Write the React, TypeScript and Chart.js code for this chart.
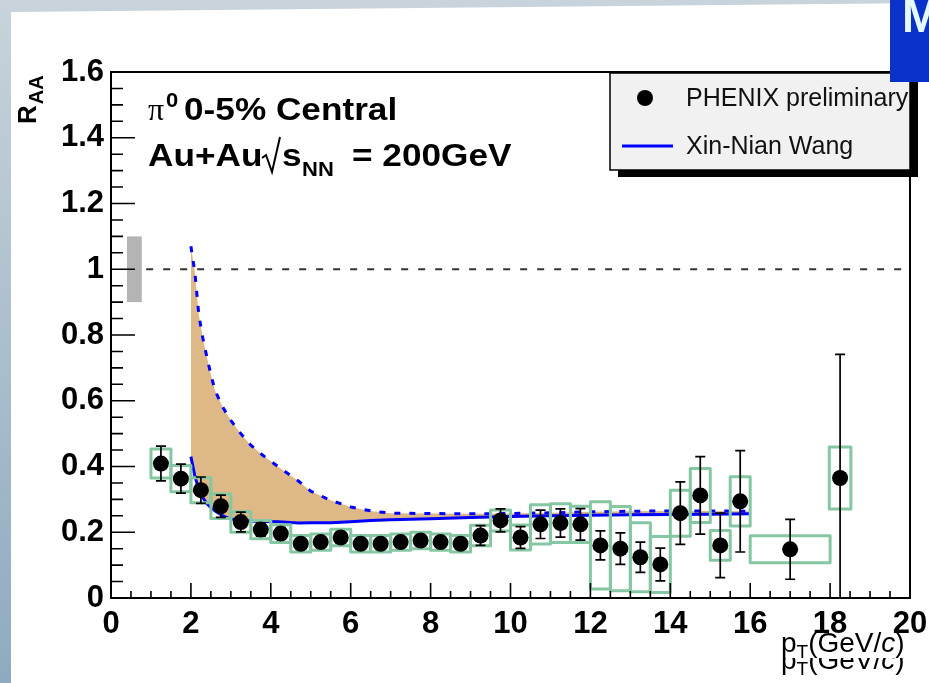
import React, { useEffect, useRef } from "react";
import { Chart, registerables } from "chart.js";

Chart.register(...registerables);

const WIDTH = 929;
const HEIGHT = 683;
const SANS = "'Liberation Sans', Arial, Helvetica, sans-serif";
const SERIF = "'Liberation Serif', 'Times New Roman', serif";

// PHENIX preliminary pi0 R_AA, 0-5% central Au+Au at sqrt(sNN) = 200 GeV
const ptValues = [1.25, 1.75, 2.25, 2.75, 3.25, 3.75, 4.25, 4.75, 5.25, 5.75, 6.25, 6.75, 7.25, 7.75, 8.25, 8.75, 9.25, 9.75, 10.25, 10.75, 11.25, 11.75, 12.25, 12.75, 13.25, 13.75, 14.25, 14.75, 15.25, 15.75, 17.0, 18.25];
const raaValues = [0.409, 0.363, 0.328, 0.279, 0.231, 0.208, 0.196, 0.165, 0.17, 0.184, 0.165, 0.165, 0.17, 0.175, 0.17, 0.165, 0.19, 0.236, 0.184, 0.224, 0.228, 0.224, 0.16, 0.15, 0.124, 0.102, 0.258, 0.312, 0.16, 0.294, 0.148, 0.365];
const statErrors = [0.053, 0.044, 0.04, 0.034, 0.03, 0.02, 0.018, 0.015, 0.015, 0.015, 0.014, 0.014, 0.014, 0.015, 0.015, 0.016, 0.03, 0.035, 0.033, 0.043, 0.043, 0.048, 0.044, 0.048, 0.046, 0.05, 0.095, 0.118, 0.098, 0.154, 0.091, 0.376];
const sysErrors = [0.044, 0.04, 0.038, 0.037, 0.031, 0.028, 0.027, 0.025, 0.025, 0.025, 0.025, 0.025, 0.025, 0.025, 0.025, 0.025, 0.031, 0.032, 0.038, 0.06, 0.059, 0.055, 0.133, 0.128, 0.105, 0.085, 0.07, 0.082, 0.045, 0.075, 0.041, 0.094];
const binHalfWidths = [0.25, 0.25, 0.25, 0.25, 0.25, 0.25, 0.25, 0.25, 0.25, 0.25, 0.25, 0.25, 0.25, 0.25, 0.25, 0.25, 0.25, 0.25, 0.25, 0.25, 0.25, 0.25, 0.25, 0.25, 0.25, 0.25, 0.25, 0.25, 0.25, 0.25, 1.0, 0.27];

// X.-N. Wang energy-loss calculation: upper and lower edge of the band
const theoryPt = [2.0, 2.1, 2.2, 2.3, 2.4, 2.5, 2.6, 2.8, 3.0, 3.25, 3.5, 3.8, 4.2, 4.7, 5.0, 5.5, 6.0, 6.5, 7.0, 8.0, 9.0, 10.0, 11.0, 12.0, 13.0, 14.0, 15.0, 16.0];
const theoryUpper = [1.07, 0.99, 0.86, 0.79, 0.733, 0.68, 0.632, 0.58, 0.54, 0.5, 0.465, 0.434, 0.398, 0.355, 0.325, 0.297, 0.277, 0.265, 0.258, 0.257, 0.256, 0.257, 0.259, 0.262, 0.264, 0.265, 0.265, 0.264];
const theoryLower = [0.43, 0.37, 0.33, 0.305, 0.287, 0.275, 0.265, 0.25, 0.24, 0.236, 0.234, 0.233, 0.232, 0.228, 0.229, 0.229, 0.232, 0.236, 0.238, 0.241, 0.245, 0.248, 0.25, 0.252, 0.253, 0.254, 0.255, 0.256];

// Overall normalisation uncertainty drawn at R_AA = 1
const normUncertainty = 0.1;
const normBoxPt = [0.4, 0.77];
const unityLineStart = 0.88;

const xRange = [0, 20];
const yRange = [0, 1.6];
const xStep = 2;
const yStep = 0.2;

const BOX_COLOR = "#86c7a3";
const BAND_COLOR = "#deb887";
const THEORY_COLOR = "#0000ff";

function drawText(ctx: CanvasRenderingContext2D, text: string, x: number, y: number, font: string, sx = 1.1) {
  ctx.save();
  ctx.font = font;
  ctx.translate(x, y);
  ctx.scale(sx, 1);
  ctx.fillText(text, 0, 0);
  const w = ctx.measureText(text).width * sx;
  ctx.restore();
  return w;
}

const decorations = {
  id: "decorations",
  beforeDraw(chart: any) {
    const ctx: CanvasRenderingContext2D = chart.ctx;
    ctx.save();
    const g = ctx.createLinearGradient(0, 0, 0, HEIGHT);
    g.addColorStop(0, "#c8d3db");
    g.addColorStop(1, "#8faac0");
    ctx.fillStyle = g;
    ctx.fillRect(0, 0, WIDTH, HEIGHT);
    ctx.fillStyle = "#ffffff";
    ctx.beginPath();
    ctx.moveTo(11, 12);
    ctx.lineTo(WIDTH, 3);
    ctx.lineTo(WIDTH, HEIGHT);
    ctx.lineTo(11, HEIGHT);
    ctx.closePath();
    ctx.fill();
    ctx.restore();
  },
  beforeDatasetsDraw(chart: any) {
    const ctx: CanvasRenderingContext2D = chart.ctx;
    const xs = chart.scales.x;
    const ys = chart.scales.y;
    ctx.save();
    // normalisation box
    ctx.fillStyle = "#b4b4b4";
    const bx0 = xs.getPixelForValue(normBoxPt[0]);
    const bx1 = xs.getPixelForValue(normBoxPt[1]);
    const by0 = ys.getPixelForValue(1 + normUncertainty);
    const by1 = ys.getPixelForValue(1 - normUncertainty);
    ctx.fillRect(bx0, by0, bx1 - bx0, by1 - by0);
    // R_AA = 1 reference
    ctx.strokeStyle = "#333333";
    ctx.lineWidth = 2;
    ctx.setLineDash([7, 10]);
    ctx.beginPath();
    ctx.moveTo(xs.getPixelForValue(unityLineStart), ys.getPixelForValue(1));
    ctx.lineTo(xs.getPixelForValue(xRange[1]), ys.getPixelForValue(1));
    ctx.stroke();
    ctx.restore();
  },
  beforeDatasetDraw(chart: any, args: any) {
    if (args.index !== 0) return;
    const ctx: CanvasRenderingContext2D = chart.ctx;
    const area = chart.chartArea;
    const xs = chart.scales.x;
    const ys = chart.scales.y;
    ctx.save();
    ctx.beginPath();
    ctx.rect(area.left, area.top, area.right - area.left, area.bottom - area.top);
    ctx.clip();
    // systematic uncertainty boxes
    ctx.strokeStyle = BOX_COLOR;
    ctx.lineWidth = 3;
    ctx.lineJoin = "round";
    ptValues.forEach((pt, i) => {
      const x0 = xs.getPixelForValue(pt - binHalfWidths[i]);
      const x1 = xs.getPixelForValue(pt + binHalfWidths[i]);
      const y0 = ys.getPixelForValue(raaValues[i] + sysErrors[i]);
      const y1 = ys.getPixelForValue(raaValues[i] - sysErrors[i]);
      ctx.strokeRect(x0, y0, x1 - x0, y1 - y0);
    });
    // statistical error bars
    ctx.strokeStyle = "#000000";
    ctx.lineWidth = 1.7;
    ptValues.forEach((pt, i) => {
      const x = xs.getPixelForValue(pt);
      const yTop = ys.getPixelForValue(raaValues[i] + statErrors[i]);
      const yBot = ys.getPixelForValue(raaValues[i] - statErrors[i]);
      ctx.beginPath();
      ctx.moveTo(x, yTop);
      ctx.lineTo(x, yBot);
      ctx.moveTo(x - 5, yTop);
      ctx.lineTo(x + 5, yTop);
      ctx.moveTo(x - 5, yBot);
      ctx.lineTo(x + 5, yBot);
      ctx.stroke();
    });
    ctx.restore();
  },
  afterDraw(chart: any) {
    const ctx: CanvasRenderingContext2D = chart.ctx;
    const area = chart.chartArea;
    const xs = chart.scales.x;
    const ys = chart.scales.y;
    ctx.save();

    // frame
    ctx.strokeStyle = "#000000";
    ctx.lineWidth = 2;
    ctx.strokeRect(area.left, area.top, area.right - area.left, area.bottom - area.top);

    // inward tick marks
    ctx.lineWidth = 1.6;
    ctx.beginPath();
    const yMinor = yStep / 4;
    const nY = Math.round((yRange[1] - yRange[0]) / yMinor);
    for (let i = 1; i < nY; i++) {
      const py = ys.getPixelForValue(yRange[0] + i * yMinor);
      const len = i % 4 === 0 ? 24 : 12;
      ctx.moveTo(area.left, py);
      ctx.lineTo(area.left + len, py);
    }
    const xMinor = xStep / 4;
    const nX = Math.round((xRange[1] - xRange[0]) / xMinor);
    for (let i = 1; i < nX; i++) {
      const px = xs.getPixelForValue(xRange[0] + i * xMinor);
      const len = i % 4 === 0 ? 15 : 7;
      ctx.moveTo(px, area.bottom);
      ctx.lineTo(px, area.bottom - len);
    }
    ctx.stroke();

    // labels in the frame
    ctx.fillStyle = "#000000";
    ctx.textBaseline = "alphabetic";
    ctx.textAlign = "left";
    drawText(ctx, "\u03c0", 148, 120, `32px ${SERIF}`, 1.0);
    drawText(ctx, "0", 166, 107, `bold 20px ${SANS}`);
    drawText(ctx, "0-5% Central", 184, 120, `bold 32px ${SANS}`);
    drawText(ctx, "Au+Au", 148, 166, `bold 32px ${SANS}`);
    ctx.lineWidth = 2;
    ctx.lineJoin = "miter";
    ctx.beginPath();
    ctx.moveTo(262, 158);
    ctx.lineTo(266, 155);
    ctx.lineTo(272, 172);
    ctx.lineTo(280, 137);
    ctx.stroke();
    drawText(ctx, "s", 282, 166, `bold 32px ${SANS}`);
    drawText(ctx, "NN", 302, 176, `bold 20px ${SANS}`);
    drawText(ctx, "= 200GeV", 352, 166, `bold 32px ${SANS}`);

    // legend
    const lx0 = 610, ly0 = 73, lx1 = 910, ly1 = 170;
    ctx.fillStyle = "#000000";
    ctx.fillRect(lx0 + 8, ly0 + 6, lx1 - lx0, ly1 - ly0 + 1);
    ctx.fillStyle = "#f1f1f1";
    ctx.fillRect(lx0, ly0, lx1 - lx0, ly1 - ly0);
    ctx.strokeStyle = "#000000";
    ctx.lineWidth = 1.5;
    ctx.strokeRect(lx0, ly0, lx1 - lx0, ly1 - ly0);
    ctx.fillStyle = "#000000";
    ctx.beginPath();
    ctx.arc(645, 98, 8, 0, Math.PI * 2);
    ctx.fill();
    ctx.strokeStyle = THEORY_COLOR;
    ctx.lineWidth = 3;
    ctx.beginPath();
    ctx.moveTo(622, 146);
    ctx.lineTo(673, 146);
    ctx.stroke();
    ctx.fillStyle = "#111111";
    ctx.textBaseline = "middle";
    ctx.font = `25px ${SANS}`;
    ctx.fillText(chart.data.datasets[0].label, 686, 99);
    ctx.fillText(chart.data.datasets[1].label, 686, 147);

    // y-axis title
    ctx.fillStyle = "#000000";
    ctx.textBaseline = "alphabetic";
    ctx.save();
    ctx.translate(36, 124);
    ctx.rotate(-Math.PI / 2);
    ctx.font = `bold 26px ${SANS}`;
    ctx.fillText("R", 0, 0);
    const rw = ctx.measureText("R").width;
    ctx.font = `bold 20px ${SANS}`;
    ctx.fillText("AA", rw + 1, 7);
    ctx.restore();

    // x-axis title, with its shifted copy underneath
    const xTitle = (baseY: number) => {
      let x = 781;
      ctx.font = `28px ${SANS}`;
      ctx.fillText("p", x, baseY);
      x += ctx.measureText("p").width;
      ctx.font = `19px ${SANS}`;
      ctx.fillText("T", x, baseY + 6);
      x += ctx.measureText("T").width;
      ctx.font = `28px ${SANS}`;
      ctx.fillText("(GeV/", x, baseY);
      x += ctx.measureText("(GeV/").width;
      ctx.font = `italic 28px ${SANS}`;
      ctx.fillText("c", x, baseY);
      x += ctx.measureText("c").width;
      ctx.font = `28px ${SANS}`;
      ctx.fillText(")", x, baseY);
    };
    ctx.save();
    ctx.beginPath();
    ctx.rect(0, 658, WIDTH, HEIGHT - 658);
    ctx.clip();
    xTitle(669);
    ctx.restore();
    xTitle(652);

    // corner tab
    ctx.fillStyle = "#0a32c8";
    ctx.fillRect(890, 0, WIDTH - 890, 82);
    ctx.fillStyle = "#e4f8f8";
    ctx.font = `bold 46px ${SANS}`;
    ctx.fillText("M", 902, 32);

    ctx.restore();
  },
};

export default function App() {
  const canvasRef = useRef<HTMLCanvasElement>(null);

  useEffect(() => {
    const canvas = canvasRef.current;
    if (!canvas) return;
    const tickFont = { family: SANS, size: 31, weight: "bold" as const };
    const chart = new Chart(canvas, {
      type: "scatter",
      data: {
        datasets: [
          {
            type: "scatter",
            label: "PHENIX preliminary",
            data: ptValues.map((x, i) => ({ x, y: raaValues[i] })),
            pointRadius: 8,
            pointBackgroundColor: "#000000",
            pointBorderColor: "#000000",
            pointBorderWidth: 0,
          },
          {
            type: "line",
            label: "Xin-Nian Wang",
            data: theoryPt.map((x, i) => ({ x, y: theoryUpper[i] })),
            borderColor: THEORY_COLOR,
            borderWidth: 3,
            borderDash: [6, 9],
            pointRadius: 0,
            fill: "+1",
            backgroundColor: BAND_COLOR,
          },
          {
            type: "line",
            label: "Xin-Nian Wang (lower edge)",
            data: theoryPt.map((x, i) => ({ x, y: theoryLower[i] })),
            borderColor: THEORY_COLOR,
            borderWidth: 3,
            pointRadius: 0,
            fill: false,
          },
        ],
      },
      options: {
        animation: false,
        responsive: false,
        devicePixelRatio: 1,
        events: [],
        layout: { padding: { top: 72, right: 19, left: 0, bottom: 0 } },
        plugins: {
          legend: { display: false },
          tooltip: { enabled: false },
          filler: { drawTime: "beforeDatasetsDraw" },
        } as any,
        scales: {
          x: {
            type: "linear",
            min: xRange[0],
            max: xRange[1],
            grid: { display: false, drawTicks: false },
            border: { display: false },
            ticks: {
              stepSize: xStep,
              color: "#000000",
              font: tickFont,
              padding: 8,
              maxRotation: 0,
              autoSkip: false,
              callback: (v: any) => String(Math.round(Number(v))),
            },
            afterFit: (s: any) => {
              s.height = 85;
              s.paddingLeft = 0;
              s.paddingRight = 0;
            },
          },
          y: {
            type: "linear",
            min: yRange[0],
            max: yRange[1],
            grid: { display: false, drawTicks: false },
            border: { display: false },
            ticks: {
              stepSize: yStep,
              color: "#000000",
              font: tickFont,
              padding: 7,
              autoSkip: false,
              callback: (v: any) => String(Math.round(Number(v) * 10) / 10),
            },
            afterFit: (s: any) => {
              s.width = 111;
              s.paddingTop = 0;
              s.paddingBottom = 0;
            },
          },
        },
      },
      plugins: [decorations],
    });
    return () => chart.destroy();
  }, []);

  return (
    <div style={{ position: "fixed", left: 0, top: 0, width: WIDTH, height: HEIGHT, overflow: "hidden" }}>
      <canvas ref={canvasRef} width={WIDTH} height={HEIGHT} style={{ display: "block", width: WIDTH, height: HEIGHT }} />
    </div>
  );
}
